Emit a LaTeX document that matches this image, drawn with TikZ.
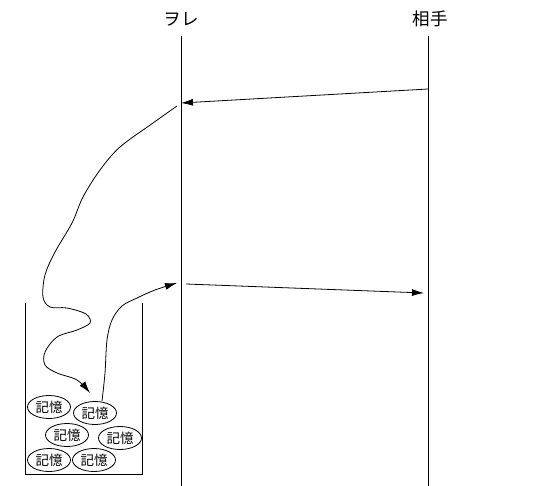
\documentclass[tikz,border=0pt]{standalone}
\usepackage{fontspec}
\setmainfont{Noto Sans CJK JP}
\usetikzlibrary{arrows.meta,shapes.geometric}

\tikzset{
  lifeline/.style={line width=0.8pt},
  msg/.style={line width=0.8pt,-{Latex[length=12pt,width=7pt]}},
  memo/.style={ellipse,draw,line width=0.8pt,minimum width=43pt,minimum height=23pt,inner sep=0pt,font=\fontsize{13.5}{13.5}\selectfont}
}

\begin{document}
\begin{tikzpicture}[x=1pt,y=-1pt]
\useasboundingbox (0,0) rectangle (537,486);

% lifelines
\node[font=\fontsize{17.5}{17.5}\selectfont] (ore)  at (181,19) {ヲレ};
\node[font=\fontsize{17.5}{17.5}\selectfont] (aite) at (430,19) {相手};
\coordinate (oreT)  at (181,36);  \coordinate (oreB)  at (181,486);
\coordinate (aiteT) at (428,36);  \coordinate (aiteB) at (428,486);
\draw[lifeline] (oreT) -- (oreB);
\draw[lifeline] (aiteT) -- (aiteB);

% messages
\coordinate (m1s) at (428,89);  \coordinate (m1e) at (181,103);
\coordinate (m2s) at (186,284); \coordinate (m2e) at (424,293);
\draw[msg] (m1s) -- (m1e);
\draw[msg] (m2s) -- (m2e);

% memory cup
\draw[lifeline] (25,303) -- (25,474) -- (142,474) -- (142,303);
\node[memo] (k1) at (49,407)  {記憶};
\node[memo] (k2) at (95,413)  {記憶};
\node[memo] (k3) at (67,435)  {記憶};
\node[memo] (k4) at (120,438) {記憶};
\node[memo] (k5) at (49,460)  {記憶};
\node[memo] (k6) at (94,460)  {記憶};

% recall curves
\draw[msg] plot[smooth,tension=0.55] coordinates {(177,106) (153,123) (120,147) (100,170) (83,197) (72,223) (55,252) (45,275) (43,297) (50,307) (67,308) (86,314) (90,323) (77,330) (57,337) (45,352) (45,365) (57,373) (77,380) (90,393)};
\draw[msg] plot[smooth,tension=0.55] coordinates {(102,401) (105,373) (107,340) (112,320) (122,306) (137,298) (155,290) (177,283)};
\end{tikzpicture}
\end{document}
